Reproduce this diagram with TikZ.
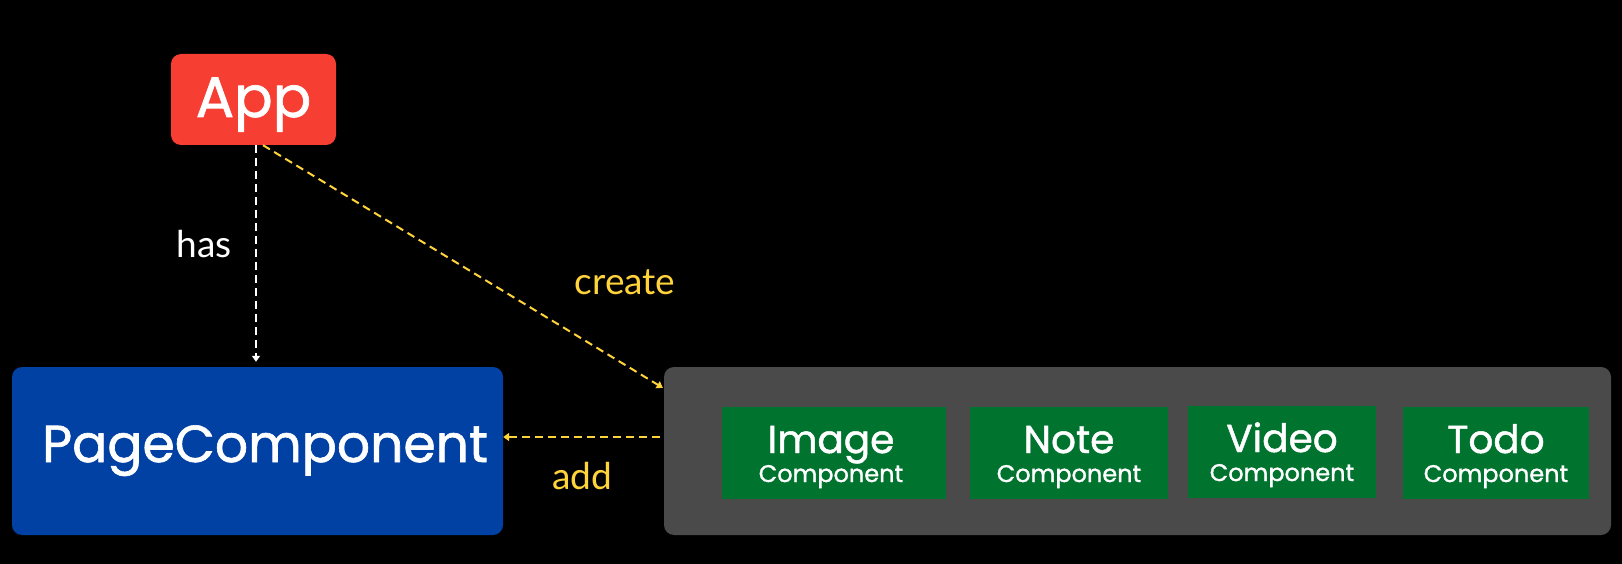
\documentclass[tikz,border=0pt]{standalone}
\usepackage{fontspec}
\setmainfont{Poppins}[FakeBold=1.2]
\newfontfamily\handfont{Lato}
\usetikzlibrary{arrows.meta}
\definecolor{appred}{RGB}{247,62,51}
\definecolor{pageblue}{RGB}{0,65,163}
\definecolor{contgray}{RGB}{74,74,74}
\definecolor{compgreen}{RGB}{0,115,47}
\definecolor{arrowyellow}{RGB}{255,212,59}
\tikzset{
  rbox/.style={rounded corners=10pt, inner sep=0pt, text=white},
  gbox/.style={fill=compgreen, inner sep=0pt, minimum height=92pt},
  bigtxt/.style={text=white, inner sep=0pt, anchor=base, font=\fontsize{39}{39}\selectfont},
  smalltxt/.style={text=white, inner sep=0pt, anchor=base, font=\fontsize{24}{24}\selectfont},
  conn/.style={line width=2pt, dash pattern=on 8pt off 5pt, -{Triangle[width=8pt,length=6pt]}},
  hand/.style={inner sep=0pt, font=\handfont\fontsize{37}{37}\selectfont}
}
\begin{document}
\begin{tikzpicture}[x=1pt,y=-1pt]
\fill[black] (0,0) rectangle (1622,564);
\useasboundingbox (0,0) rectangle (1622,564);
% boxes
\node[rbox, fill=appred, minimum width=165pt, minimum height=91pt] (app) at (253.5,99.5) {};
\node[text=white, inner sep=0pt, anchor=base, font=\fontsize{57}{57}\selectfont] (appt) at (253.5,117) {App};
\node[rbox, fill=pageblue, minimum width=491pt, minimum height=168pt] (page) at (257.5,451) {};
\node[text=white, inner sep=0pt, anchor=base, font=\fontsize{52}{52}\selectfont] (paget) at (265,462) {PageComponent};
\node[rbox, fill=contgray, minimum width=947pt, minimum height=168pt] (cont) at (1137.5,451) {};
% green components
\node[gbox, minimum width=224pt] (img) at (834,453) {};
\node[gbox, minimum width=198pt] (note) at (1069,453) {};
\node[gbox, minimum width=188pt] (video) at (1282,452) {};
\node[gbox, minimum width=186pt] (todo) at (1496,453) {};
\node[bigtxt] (imgt) at (831,453) {Image};
\node[smalltxt] (imgc) at (831,482) {Component};
\node[bigtxt] (notet) at (1069,453) {Note};
\node[smalltxt] (notec) at (1069,482) {Component};
\node[bigtxt] (videot) at (1282,452) {Video};
\node[smalltxt] (videoc) at (1282,481) {Component};
\node[bigtxt] (todot) at (1496,453) {Todo};
\node[smalltxt] (todoc) at (1496,482) {Component};
% connectors
\draw[conn, white] ([xshift=2.5pt]app.south) -- ([xshift=-1.5pt, yshift=5pt]page.north);
\draw[conn, arrowyellow] ([xshift=9.5pt]app.south) -- ([xshift=-1pt, yshift=-21pt]cont.north west);
\draw[conn, arrowyellow] ([xshift=-4pt, yshift=14pt]cont.west) -- ([yshift=14pt]page.east);
% labels
\node[hand, text=white] (has) at (204,244) {has};
\node[hand, text=arrowyellow] (create) at (625,282) {create};
\node[hand, text=arrowyellow] (add) at (582,476) {add};
\end{tikzpicture}
\end{document}
